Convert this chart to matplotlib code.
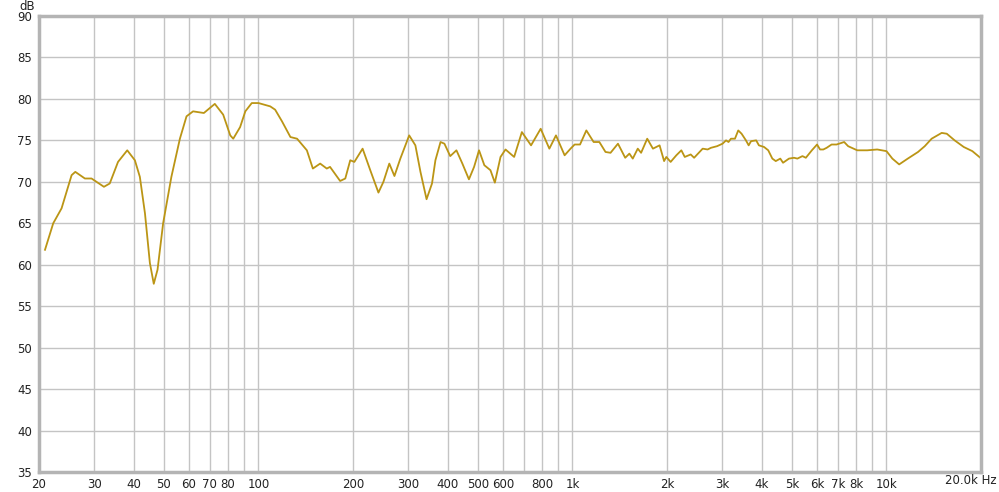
import matplotlib
matplotlib.use("Agg")
import matplotlib.pyplot as plt

# frequency response (Hz, dB)
freq_hz = [
    20.9, 22.2, 23.6, 25.4, 26.1, 28.0, 29.4, 32.2, 33.6, 35.7,
    38.2, 40.4, 41.9, 43.5, 45.1, 46.4, 47.7, 49.7, 52.8, 56.2,
    59.0, 61.9, 67.0, 72.6, 77.2, 81.3, 83.1, 87.4, 90.8, 95.2,
    100, 109, 113, 118.8, 126.4, 132.7, 142.6, 149, 157.2, 165,
    169, 182, 189, 196, 202, 214.6, 227, 241, 250, 261,
    271, 283, 302, 316, 328, 343, 357, 366, 380, 391,
    408, 427, 446, 468, 486, 504, 524, 548, 566, 590,
    612, 652, 690, 738, 792, 844, 886, 944, 986, 1016,
    1057, 1107, 1168, 1218, 1274, 1322, 1396, 1472, 1518, 1556,
    1614, 1654, 1730, 1804, 1894, 1958, 1990, 2054, 2142, 2222,
    2278, 2380, 2440, 2598, 2694, 2760, 2888, 3006, 3084, 3140,
    3196, 3292, 3372, 3456, 3568, 3640, 3704, 3846, 3924, 4076,
    4202, 4330, 4440, 4590, 4684, 4892, 5078, 5204, 5400, 5536,
    5786, 5943, 6010, 6144, 6292, 6448, 6686, 6934, 7332, 7548,
    7972, 8070, 8684, 9344, 10000, 10440, 10976, 11690, 12604, 13242,
    13924, 14992, 15562, 16484, 17626, 18772, 19900,
]
level_db = [
    61.8, 65.0, 66.8, 70.8, 71.2, 70.4, 70.4, 69.4, 69.8, 72.4,
    73.8, 72.6, 70.6, 66.2, 60.2, 57.7, 59.4, 65.0, 70.6, 75.2,
    77.9, 78.5, 78.3, 79.4, 78.1, 75.6, 75.2, 76.6, 78.5, 79.5,
    79.5, 79.1, 78.7, 77.3, 75.4, 75.2, 73.8, 71.6, 72.2, 71.6,
    71.8, 70.1, 70.4, 72.6, 72.4, 74.0, 71.4, 68.7, 70.0, 72.2,
    70.7, 72.8, 75.6, 74.4, 71.2, 67.9, 69.8, 72.6, 74.8, 74.6,
    73.1, 73.8, 72.2, 70.3, 71.8, 73.8, 72.0, 71.4, 69.9, 73.0,
    73.9, 73.0, 76.0, 74.4, 76.4, 74.0, 75.6, 73.2, 74.0, 74.5,
    74.5, 76.2, 74.8, 74.8, 73.6, 73.5, 74.6, 72.9, 73.4, 72.8,
    74.0, 73.5, 75.2, 74.0, 74.4, 72.5, 73.0, 72.4, 73.2, 73.8,
    73.0, 73.3, 72.9, 74.0, 73.9, 74.1, 74.3, 74.6, 75.0, 74.8,
    75.2, 75.2, 76.2, 75.8, 75.0, 74.4, 74.9, 75.0, 74.4, 74.2,
    73.8, 72.8, 72.5, 72.8, 72.3, 72.8, 72.9, 72.8, 73.1, 72.9,
    73.8, 74.3, 74.5, 73.9, 73.9, 74.1, 74.5, 74.5, 74.8, 74.3,
    73.9, 73.8, 73.8, 73.9, 73.7, 72.8, 72.1, 72.8, 73.6, 74.3,
    75.2, 75.9, 75.8, 75.0, 74.2, 73.7, 72.9,
]

grid_freqs = [20, 30, 40, 50, 60, 70, 80, 90, 100, 200, 300, 400, 500, 600, 700, 800, 900,
              1000, 2000, 3000, 4000, 5000, 6000, 7000, 8000, 9000, 10000, 20000]
grid_labels = ["20", "30", "40", "50", "60", "70", "80", "", "100", "200", "300", "400", "500",
               "600", "", "800", "", "1k", "2k", "3k", "4k", "5k", "6k", "7k", "8k", "", "10k", ""]
db_ticks = [35, 40, 45, 50, 55, 60, 65, 70, 75, 80, 85, 90]

W, H = 999, 492
fig = plt.figure(figsize=(W / 100, H / 100), dpi=100)
ax = fig.add_axes([39 / W, (H - 472) / H, 942 / W, 456 / H])

ax.plot(freq_hz, level_db, color="#bb9515", lw=1.3, solid_joinstyle="round")

ax.set_xscale("log")
ax.set_xlim(20, 20000)
ax.set_ylim(35, 90)
ax.set_xticks(grid_freqs)
ax.set_xticklabels(grid_labels)
ax.xaxis.set_minor_locator(matplotlib.ticker.NullLocator())
ax.set_yticks(db_ticks)
ax.grid(True, color="#c4c4c4", lw=1)
ax.set_axisbelow(True)
ax.tick_params(length=0, labelsize=8.5, colors="#222222")
ax.tick_params(axis="y", pad=5)
ax.tick_params(axis="x", pad=4)

for side, sp in ax.spines.items():
    sp.set_color("#b4b4b4")
    sp.set_linewidth(2.5)

fig.text(35 / W, 1 - 6 / H, "dB", ha="right", va="center", fontsize=8.5, color="#222222")
fig.text(997 / W, 1 - 481 / H, "20.0k Hz", ha="right", va="center", fontsize=8.5, color="#222222")

fig.savefig("out.png", dpi=100, facecolor="white")
